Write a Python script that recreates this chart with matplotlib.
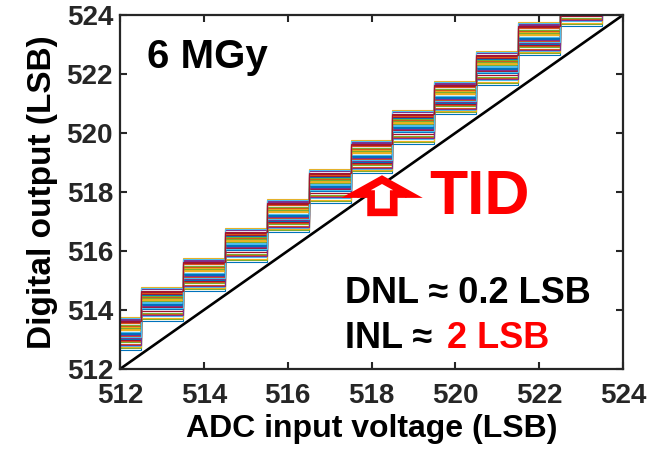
import numpy as np
import matplotlib
matplotlib.use("Agg")
from matplotlib import pyplot as plt
from matplotlib.patches import Polygon

plt.rcParams['font.family'] = ['Liberation Sans', 'DejaVu Sans']
plt.rcParams['font.weight'] = 'bold'

# transition edges of the ADC transfer curve (LSB)
edges = [512, 512.5, 513.5, 514.5, 515.5, 516.5, 517.5, 518.5,
         519.5, 520.5, 521.5, 522.5, 523.5, 524]
# ideal output code for each segment
codes = [513, 514, 515, 516, 517, 518, 519, 520, 521, 522, 523, 524, 525]
# output offset of each measured curve (LSB)
offsets = [-0.36, 0.12, 0.77, 0.05, 0.31, -0.22, 0.55, 0.18, -0.05, 0.42,
           0.66, -0.30, 0.24, 0.09, 0.50, -0.15, 0.36, 0.71, -0.10, 0.27,
           0.60, 0.02, 0.45, -0.26, 0.15, 0.39, 0.74, -0.02, 0.21, 0.57,
           0.33, -0.18, 0.48, 0.07, 0.63]
# ideal transfer line
ideal_x = [512, 524]
ideal_y = [512, 524]

matlab_colors = ['#0072BD', '#D95319', '#EDB120', '#7E2F8E',
                 '#77AC30', '#4DBEEE', '#A2142F']
axcol = '#262626'

fig = plt.figure(figsize=(6.6, 4.51), dpi=100)
ax = fig.add_axes([0.1818, 0.1818, 0.7622, 0.785])

for i, off in enumerate(offsets):
    ax.stairs(np.array(codes) + off, edges, baseline=None,
              color=matlab_colors[i % 7], lw=0.8)

ax.plot(ideal_x, ideal_y, color='black', lw=1.9)

ax.set_xlim(512, 524)
ax.set_ylim(512, 524)
ax.set_xticks(range(512, 525, 2))
ax.set_yticks(range(512, 525, 2))
ax.tick_params(direction='in', length=5, width=1.5, colors=axcol,
               labelsize=20, top=True, right=True)
ax.tick_params(axis='x', pad=10)
ax.tick_params(axis='y', pad=5)
for lab in ax.get_xticklabels() + ax.get_yticklabels():
    lab.set_fontweight('bold')
for s in ax.spines.values():
    s.set_color(axcol)
    s.set_linewidth(1.6)

ax.set_xlabel('ADC input voltage (LSB)', fontsize=23, fontweight='bold',
              labelpad=4)
ax.set_ylabel('Digital output (LSB)', fontsize=24, fontweight='bold',
              labelpad=6)

ax.text(512.64, 522.2, '6 MGy', fontsize=29, fontweight='bold')
ax.text(519.37, 517.25, 'TID', fontsize=45, fontweight='bold', color='red')

arrow = Polygon([(518.25, 518.42), (518.87, 517.93), (518.53, 517.93),
                 (518.53, 517.31), (517.99, 517.31), (517.99, 517.93),
                 (517.63, 517.93)], closed=True, facecolor='white',
                edgecolor='red', lw=5.5, joinstyle='miter', zorder=5)
ax.add_patch(arrow)

ax.text(517.37, 514.24, 'DNL \u2248 0.2 LSB', fontsize=26, fontweight='bold')
ax.text(517.37, 512.71, 'INL \u2248 ', fontsize=26, fontweight='bold')
ax.text(519.80, 512.71, '2 LSB', fontsize=26, fontweight='bold', color='red')

fig.savefig('out.png', dpi=100)
